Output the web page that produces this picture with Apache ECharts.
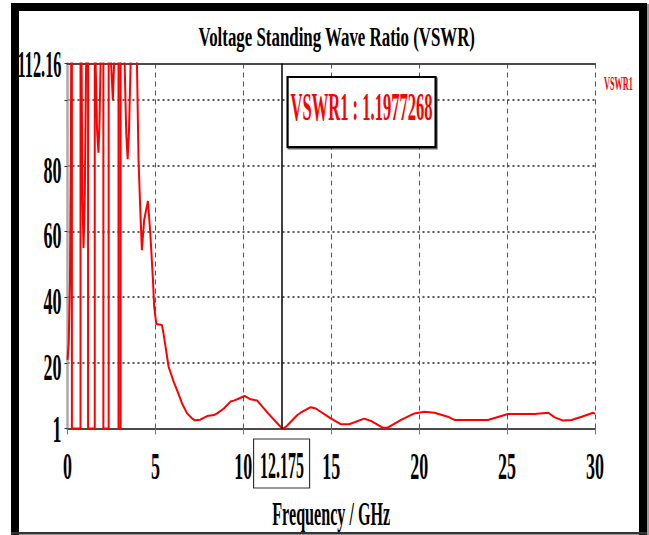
<!DOCTYPE html>
<html>
<head>
<meta charset="utf-8">
<script src="https://cdn.jsdelivr.net/npm/echarts@6/dist/echarts.min.js"></script>
<style>
  html, body { margin: 0; padding: 0; background: #fff; }
  #chart { width: 649px; height: 535px; }
</style>
</head>
<body>
<div id="chart"></div>
<script>
// VSWR sweep, 0-30 GHz. Values above the plot ceiling are clipped by the grid.
const freqGHz = [
  0, 0.07, 0.14, 0.19, 0.21, 0.25, 0.25, 0.74, 0.74, 0.80, 0.85, 0.91, 0.98, 1.06,
  1.17, 1.17, 1.55, 1.55, 1.60, 1.68, 1.76, 1.82, 1.88, 2.04, 2.04, 2.34, 2.34,
  2.48, 2.58, 2.65, 2.90, 2.90, 3.02, 3.02, 3.25, 3.34, 3.42, 3.50, 3.59, 3.75,
  3.95, 4.04, 4.14, 4.23, 4.36, 4.575, 4.71, 4.86, 4.93, 5.05, 5.37, 5.46, 5.75,
  6.04, 6.23, 6.51, 6.80, 7.08, 7.25, 7.55, 7.94, 8.32, 8.51, 8.89, 9.27, 9.46,
  9.65, 10.07, 10.41, 10.79, 11.36, 11.93, 12.175, 12.31, 12.5, 13.07, 13.26,
  13.83, 14.12, 14.97, 15.54, 16.02, 16.87, 17.26, 17.92, 18.21, 18.97, 19.73,
  20.30, 20.87, 21.63, 22.01, 23.91, 24.67, 25.05, 26.57, 27.34, 27.71, 28.19,
  28.67, 29.24, 29.90, 30
];
const vswr = [
  21.9, 27, 46, 85, 112.16, 130, 1, 1, 130, 112.16, 72, 56, 70, 112.16,
  130, 1, 1, 130, 112.16, 92, 85, 94, 112.16, 130, 1, 1, 130,
  112.16, 101, 112.16, 130, 1, 1, 130, 112.16, 91, 83, 92, 112.16, 130,
  112.16, 82.7, 67.5, 55.3, 64.5, 70.3, 60.4, 46.2, 38.1, 32.8, 32.5, 30, 19.8,
  15.2, 12.7, 8.7, 5.6, 4.1, 3.5, 3.7, 4.8, 5.1, 5.6, 7.1, 9.2, 9.5,
  9.9, 10.9, 9.9, 9.5, 5.9, 2.6, 1.1977268, 1.1, 1.9, 5.1, 5.8,
  7.5, 7.1, 4.1, 2.3, 2.3, 4.0, 3.3, 1.25, 1.25, 3.6, 5.6,
  6.1, 5.8, 4.6, 3.6, 3.6, 4.8, 5.4, 5.4, 5.8, 4.4, 3.4,
  3.6, 4.6, 5.8, 5.4
];
const xTickValues = [0, 5, 10, 15, 20, 25, 30];
const xTickText = ['0', '5', '10', '15', '20', '25', '30'];
const yTickValues = [1, 20, 40, 60, 80, 112.16];
const yTickText = ['1', '20', '40', '60', '80', '112.16'];
const yMin = 1;
const yMax = 112.16;
const markerFreq = 12.175;
const markerVswr = 1.1977268;
const chartTitle = 'Voltage Standing Wave Ratio (VSWR)';
const xAxisTitle = 'Frequency / GHz';
const seriesName = 'VSWR1';

const SERIF = '"Liberation Serif", "Times New Roman", serif';
const RED = '#ff0000';

const chart = echarts.init(document.getElementById('chart'), null, { renderer: 'svg' });

chart.setOption({
  animation: false,
  backgroundColor: '#ffffff',
  grid: { left: 67.5, right: 54, top: 63.5, bottom: 106.5, containLabel: false, outerBoundsMode: 'none' },
  xAxis: [
    {
      type: 'value', min: 0, max: 30, interval: 5, position: 'bottom',
      axisLine: { show: true, onZero: false, lineStyle: { color: '#4a4a4a', width: 2 } },
      axisTick: { show: true, length: 6, lineStyle: { color: '#777', width: 1 } },
      axisLabel: { show: false },
      splitLine: { show: true, showMinLine: false, lineStyle: { color: '#555', width: 1, type: [5, 4] } }
    },
    {
      type: 'value', min: 0, max: 30, position: 'top',
      axisLine: { show: true, onZero: false, lineStyle: { color: '#4a4a4a', width: 2 } },
      axisTick: { show: false }, axisLabel: { show: false }, splitLine: { show: false }
    }
  ],
  yAxis: {
    type: 'value', min: yMin, max: yMax, interval: 20,
    axisLine: { show: true, onZero: false, lineStyle: { color: '#aaaaaa', width: 2.5 } },
    axisTick: { show: true, length: 3, lineStyle: { color: '#333', width: 1 } },
    axisLabel: { show: false },
    splitLine: { show: true, showMinLine: false, showMaxLine: false,
      lineStyle: { color: '#222', width: 1.5, type: [2, 3] } }
  },
  series: [{
    name: seriesName,
    type: 'line',
    data: freqGHz.map((f, i) => [f, vswr[i]]),
    showSymbol: false,
    symbol: 'none',
    clip: true,
    lineStyle: { color: RED, width: 2 },
    markLine: {
      silent: true, symbol: 'none', animation: false,
      label: { show: false },
      lineStyle: { color: '#000', width: 1.5, type: 'solid' },
      data: [{ xAxis: markerFreq }]
    }
  }]
});

// Condensed bold serif text: horizontal squeeze fitted to a target width
const measureCtx = document.createElement('canvas').getContext('2d');
function squeeze(text, size, width) {
  measureCtx.font = 'bold ' + size + 'px ' + SERIF;
  return width / measureCtx.measureText(text).width;
}
function label(text, x, y, size, width, align, color) {
  return {
    type: 'text', x: x, y: y, z: 40,
    scaleX: squeeze(text, size, width),
    style: {
      text: text, fill: color || '#000',
      fontSize: size, fontWeight: 'bold', fontFamily: SERIF,
      align: align || 'center', verticalAlign: 'middle',
      textAlign: align || 'center', textVerticalAlign: 'middle'
    }
  };
}

const px = (x, y) => chart.convertToPixel({ gridIndex: 0 }, [x, y]);
const [gx0, gyBottom] = px(0, yMin);
const [gx1, gyTop] = px(30, yMax);
const [mx] = px(markerFreq, markerVswr);

const TICK_SIZE = 37;
const TICK_SCALE_REF = squeeze('10', TICK_SIZE, 18);
function tickText(text, x, y, align) {
  const el = label(text, x, y, TICK_SIZE, 1, align);
  // long labels are set tighter so they stay clear of the frame
  el.scaleX = Math.min(TICK_SCALE_REF, squeeze(text, TICK_SIZE, 44));
  return el;
}

const graphics = [];

// outer frame
graphics.push(
  { type: 'rect', z: 30, shape: { x: 11, y: 3, width: 636, height: 8 }, style: { fill: '#000' } },
  { type: 'rect', z: 30, shape: { x: 11, y: 3, width: 8, height: 532 }, style: { fill: '#000' } },
  { type: 'rect', z: 30, shape: { x: 639, y: 3, width: 8, height: 532 }, style: { fill: '#000' } },
  { type: 'rect', z: 30, shape: { x: 647, y: 4, width: 2, height: 531 }, style: { fill: '#9a9a9a' } },
  { type: 'rect', z: 30, shape: { x: 11, y: 532, width: 636, height: 2.5 }, style: { fill: '#333' } }
);

// title, axis title, legend entry
graphics.push(label(chartTitle, (gx0 + gx1) / 2 + 5.5, 37.5, 27, 277));
graphics.push(label(xAxisTitle, (gx0 + gx1) / 2, 514, 33, 118));
graphics.push(label(seriesName, gx1 + 9, 84, 18, 29, 'left', RED));

// x tick labels
xTickValues.forEach((v, i) => {
  const [x] = px(v, yMin);
  graphics.push(tickText(xTickText[i], x, gyBottom + 37.5));
});
// y tick labels
yTickValues.forEach((v, i) => {
  const [, y] = px(0, v);
  graphics.push(tickText(yTickText[i], gx0 - 6, y + 1, 'right'));
});

// marker frequency readout on the x axis
graphics.push({ type: 'rect', z: 19, shape: { x: mx - 28, y: gyBottom + 10.5, width: 56, height: 49 },
  style: { fill: '#fff', stroke: '#333', lineWidth: 1.2 } });
graphics.push(tickText(String(markerFreq), mx + 0.5, gyBottom + 37.5));

// marker value readout box
graphics.push({ type: 'rect', z: 19, shape: { x: mx + 6, y: 77, width: 148, height: 70 },
  style: { fill: '#fff', stroke: '#000', lineWidth: 2.2, shadowColor: 'rgba(0,0,0,0.6)', shadowOffsetX: 1, shadowOffsetY: 1.5 } });
graphics.push(label(seriesName + ' : ' + markerVswr, mx + 80, 107, 40, 142, 'center', RED));

chart.setOption({ graphic: graphics });
</script>
</body>
</html>
